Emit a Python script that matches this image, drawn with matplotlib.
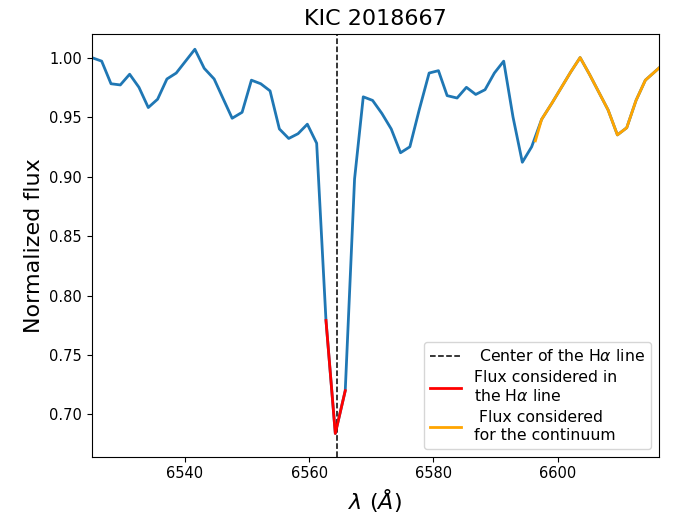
import matplotlib
matplotlib.use("Agg")
import matplotlib.pyplot as plt

# spectrum around H-alpha
wave = [6525.0, 6526.6, 6528.1, 6529.6, 6531.1, 6532.6, 6534.1, 6535.6, 6537.1, 6538.6,
        6540.1, 6541.6, 6543.1, 6544.7, 6546.1, 6547.6, 6549.2, 6550.7, 6552.2, 6553.7,
        6555.2, 6556.7, 6558.2, 6559.7, 6561.2, 6562.7, 6564.2, 6565.8, 6567.3, 6568.7,
        6570.2, 6571.7, 6573.2, 6574.7, 6576.2, 6577.7, 6579.3, 6580.8, 6582.2, 6583.8,
        6585.3, 6586.8, 6588.3, 6589.8, 6591.3, 6592.8, 6594.3, 6595.8, 6597.4, 6599.1,
        6600.6, 6602.1, 6603.6, 6605.1, 6606.6, 6608.1, 6609.6, 6611.1, 6612.6, 6614.1,
        6615.6, 6617.1]
flux = [1.000, 0.997, 0.978, 0.977, 0.986, 0.975, 0.958, 0.965, 0.982, 0.987,
        0.997, 1.007, 0.991, 0.982, 0.966, 0.949, 0.954, 0.981, 0.978, 0.972,
        0.940, 0.932, 0.936, 0.944, 0.928, 0.779, 0.684, 0.720, 0.898, 0.967,
        0.964, 0.953, 0.940, 0.920, 0.925, 0.956, 0.987, 0.989, 0.968, 0.966,
        0.975, 0.969, 0.973, 0.987, 0.997, 0.950, 0.912, 0.925, 0.948, 0.962,
        0.975, 0.988, 1.000, 0.986, 0.971, 0.956, 0.935, 0.941, 0.964, 0.981,
        0.988, 0.995]

# points used inside the line
wave_line = [6562.7, 6564.2, 6565.8]
flux_line = [0.779, 0.684, 0.720]

# points used for the continuum
wave_cont = [6596.4, 6597.4, 6599.1, 6600.6, 6602.1, 6603.6, 6605.1, 6606.6, 6608.1,
             6609.6, 6611.1, 6612.6, 6614.1, 6615.6, 6617.1]
flux_cont = [0.930, 0.948, 0.962, 0.975, 0.988, 1.000, 0.986, 0.971, 0.956,
             0.935, 0.941, 0.964, 0.981, 0.988, 0.995]

halpha = 6564.5

fig = plt.figure(figsize=(6.76, 5.15), dpi=100)
ax = fig.add_axes([0.1357, 0.1132, 0.8392, 0.8212])

ax.plot(wave, flux, color="C0", linewidth=2)
ax.axvline(halpha, color="k", linestyle="--", linewidth=1.1, label=" Center of the H$\\alpha$ line")
ax.plot(wave_line, flux_line, color="red", linewidth=2, label="Flux considered in\nthe H$\\alpha$ line")
ax.plot(wave_cont, flux_cont, color="orange", linewidth=2, label=" Flux considered\nfor the continuum")

ax.set_xlim(6525.0, 6616.3)
ax.set_ylim(0.6645, 1.020)
ax.set_xticks([6540, 6560, 6580, 6600])
ax.tick_params(labelsize=10.5)

ax.set_title("KIC 2018667", fontsize=16)
ax.set_xlabel("$\\lambda$ ($\\AA$)", fontsize=16)
ax.set_ylabel("Normalized flux", fontsize=16)
ax.legend(loc="lower right", fontsize=11.3, labelspacing=0.4)

fig.savefig("out.png", dpi=100)
